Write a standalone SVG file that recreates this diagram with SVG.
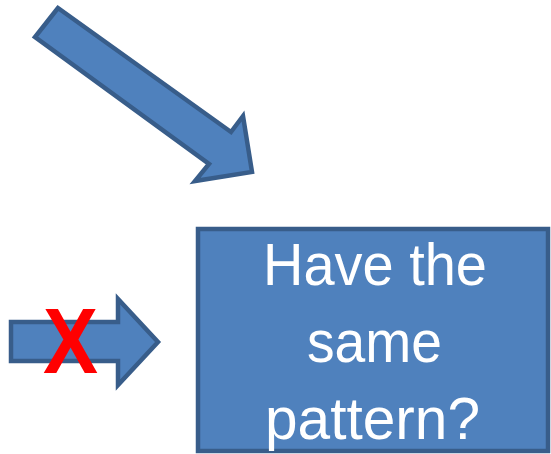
<svg xmlns="http://www.w3.org/2000/svg" width="551" height="454" viewBox="0 0 551 454">
  <style>
    .shape { fill: #4F81BD; stroke: #385D8A; stroke-width: 4.5; stroke-linejoin: miter; }
    .label { fill: #FFFFFF; font-family: "Liberation Sans", Arial, sans-serif; font-size: 59px; text-anchor: middle; }
    .cross { fill: #FF0000; font-family: "Liberation Sans", Arial, sans-serif; font-weight: bold; font-size: 92px; text-anchor: middle; }
  </style>
  <rect width="551" height="454" fill="#FFFFFF"/>

  <g id="connectors">
    <!-- diagonal block arrow pointing down-right -->
    <polygon id="arrow-diagonal" class="shape" points="58,8 35,37 209,164 195,181 252,172 243,116 231,132"/>
    <!-- horizontal block arrow pointing right, struck out -->
    <g id="arrow-right">
      <polygon class="shape" points="11,322 118,322 118,299 158,342 118,385 118,361 11,361"/>
      <text class="cross" x="70.5" y="373" textLength="55" lengthAdjust="spacingAndGlyphs">X</text>
    </g>
  </g>

  <g id="question-box">
    <rect class="shape" x="198" y="229" width="350" height="222"/>
    <text class="label" x="375" y="285" textLength="224" lengthAdjust="spacingAndGlyphs">Have the</text>
    <text class="label" x="374.5" y="362" textLength="135" lengthAdjust="spacingAndGlyphs">same</text>
    <text class="label" x="372.5" y="439" textLength="215" lengthAdjust="spacingAndGlyphs">pattern?</text>
  </g>
</svg>
